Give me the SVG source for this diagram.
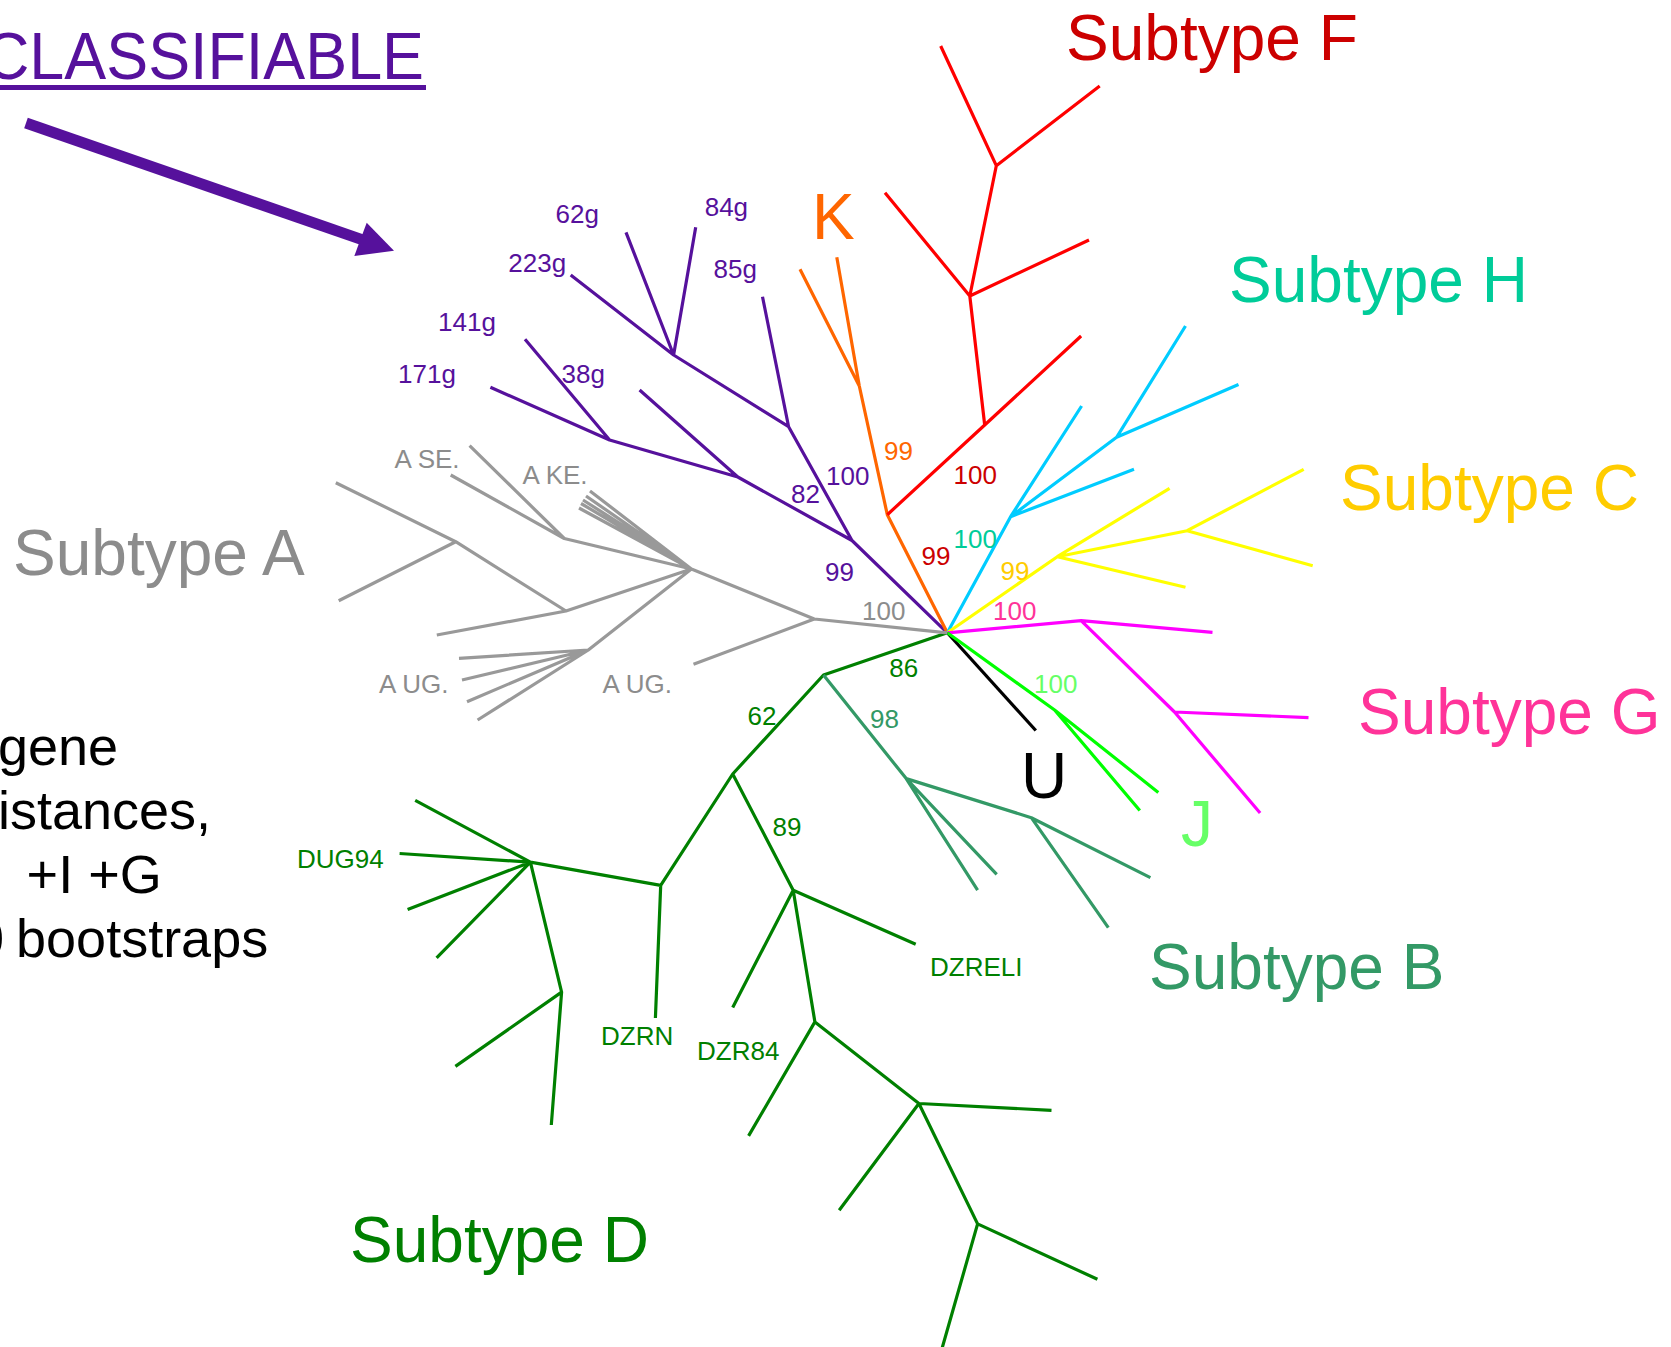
<svg xmlns="http://www.w3.org/2000/svg" width="1671" height="1347" viewBox="0 0 1671 1347">
  <style>
    text { font-family: "Liberation Sans", Arial, sans-serif; }
    .big { font-size: 64px; }
    .note { font-size: 54px; fill: #000; }
    .lbl { font-size: 26px; }
    .strain { font-size: 26px; }
    .br { fill: none; stroke-width: 3.2; stroke-linejoin: round; stroke-linecap: butt; }
    .purple { fill: #56119c; }
    .gray { fill: #8c8c8c; }
    .dred { fill: #cc0000; }
    .orange { fill: #ff6600; }
    .teal { fill: #00cc99; }
    .gold { fill: #ffcc00; }
    .pink { fill: #ff3399; }
    .lgreen { fill: #66ff66; }
    .dgreen { fill: #008000; }
    .sgreen { fill: #339966; }
  </style>
  <rect width="1671" height="1347" fill="#ffffff"/>

  <!-- heading and pointer -->
  <g id="heading">
    <text x="-16" y="79.3" font-size="66" textLength="440" lengthAdjust="spacingAndGlyphs" class="purple">CLASSIFIABLE</text>
    <rect x="0" y="85" width="426" height="5" fill="#56119c"/>
  </g>
  <g id="pointer">
    <line x1="26" y1="123" x2="362" y2="239.6" stroke="#56119c" stroke-width="11"/>
    <path d="M366.7 222.7 L394 250.7 L354.3 256 Z" fill="#56119c"/>
  </g>

  <!-- method notes -->
  <g id="method-notes">
    <text x="-2" y="765" class="note">gene</text>
    <text x="-2" y="829" class="note">istances,</text>
    <text x="26.6" y="893" class="note">+I +G</text>
    <text x="-26" y="957" class="note" word-spacing="-3">0 bootstraps</text>
  </g>

  <!-- tree branches -->
  <g id="connectors">
    <path id="br-unclassified" class="br" stroke="#56119c" d="M947.3 632.8 L852 540.5 L788.6 426.7 L673.6 355 L570.7 275 M673.6 355 L626 232.3 M673.6 355 L695.7 227.3 M788.6 426.7 L762.5 296.7 M852 540.5 L737.8 477 L609.6 440 L490.4 387.3 M609.6 440 L525 339.3 M737.8 477 L639.6 390"/>
    <path id="br-K" class="br" stroke="#ff6600" d="M947.3 632.8 L887.3 514.7 L859.3 386 L800 269.3 M859.3 386 L836.8 257.3"/>
    <path id="br-F" class="br" stroke="#ff0000" d="M887.3 514.7 L984.7 425 L969.8 296 L996.3 165.7 L940.7 46 M996.3 165.7 L1099.7 86 M969.8 296 L885 192.7 M969.8 296 L1089 240 M984.7 425 L1081.1 336"/>
    <path id="br-H" class="br" stroke="#00ccff" d="M947.3 632.8 L1010.6 516.7 L1116.6 437.3 L1185.5 326 M1116.6 437.3 L1238.5 384.5 M1010.6 516.7 L1081.6 406 M1010.6 516.7 L1134 469.3"/>
    <path id="br-C" class="br" stroke="#ffff00" d="M947.3 632.8 L1057.3 556.7 L1187.1 530.7 L1303.7 469.3 M1187.1 530.7 L1312.7 565.7 M1057.3 556.7 L1169.6 488.3 M1057.3 556.7 L1185.5 587.3"/>
    <path id="br-G" class="br" stroke="#ff00ff" d="M947.3 632.8 L1081.1 620.7 L1212.5 632.3 M1081.1 620.7 L1174.5 712 L1308.5 717.6 M1174.5 712 L1260.1 813"/>
    <path id="br-U" class="br" stroke="#000000" d="M947.3 632.8 L1035.8 730.5"/>
    <path id="br-J" class="br" stroke="#00ff00" d="M947.3 632.8 L1054.6 710 L1158.3 792.4 M1054.6 710 L1139.8 810.5"/>
    <path id="br-D" class="br" stroke="#008000" d="M947.3 632.8 L823.5 675 L732.7 774 L660.7 885.3 L655.4 1018 M660.7 885.3 L530.4 862.2 L415.2 800.3 M530.4 862.2 L399.6 853.5 M530.4 862.2 L407.6 909.6 M530.4 862.2 L436.6 957.9 M530.4 862.2 L561.6 992.1 L455.4 1066.4 M561.6 992.1 L551.3 1125 M732.7 774 L793.2 890.2 L915.7 944.3 M793.2 890.2 L732.7 1007.5 M793.2 890.2 L814.9 1021.9 L748.6 1135.9 M814.9 1021.9 L918.9 1103.5 L1051.5 1110.3 M918.9 1103.5 L839.2 1210.3 M918.9 1103.5 L977.6 1223.9 L1097.4 1279.3 M977.6 1223.9 L941 1352"/>
    <path id="br-B" class="br" stroke="#339966" d="M823.5 675 L906.2 778.6 L977.6 890.2 M906.2 778.6 L996.7 874.4 M906.2 778.6 L1031.3 817.7 L1150.4 877.6 M1031.3 817.7 L1108.3 927.6"/>
    <path id="br-A" class="br" stroke="#999999" d="M947.3 632.8 L814.3 619 L693.5 664.3 M814.3 619 L691.4 569 L564.3 538.5 L469.6 445.7 M564.3 538.5 L450.7 475 M691.4 569 L566 611 L436.8 635 M566 611 L455.7 541.7 L335.8 482.7 M455.7 541.7 L338.7 600.7 M691.4 569 L588.3 650 L459 658.3 M588.3 650 L462 680 M588.3 650 L467 701.7 M588.3 650 L477.6 720 M691.4 569 L590 491 M691.4 569 L586 496 M691.4 569 L583 500 M691.4 569 L581 503.5 M691.4 569 L579 508"/>
  </g>

  <!-- clade labels, leaf names and bootstrap values -->
  <g id="clade-unclassified">
    <text x="555.5" y="223.3" class="lbl purple">62g</text>
    <text x="704.7" y="216" class="lbl purple">84g</text>
    <text x="508.3" y="271.7" class="lbl purple">223g</text>
    <text x="713.6" y="277.7" class="lbl purple">85g</text>
    <text x="438" y="330.7" class="lbl purple">141g</text>
    <text x="398" y="383.3" class="lbl purple">171g</text>
    <text x="561.5" y="383.3" class="lbl purple">38g</text>
    <text x="826" y="485" class="lbl purple">100</text>
    <text x="791" y="503" class="lbl purple">82</text>
    <text x="825" y="580.7" class="lbl purple">99</text>
  </g>
  <g id="clade-K">
    <text x="812" y="239.3" class="big orange">K</text>
    <text x="884" y="460" class="lbl orange">99</text>
  </g>
  <g id="clade-F">
    <text x="1066" y="60" class="big dred">Subtype F</text>
    <text x="953.5" y="484" class="lbl dred">100</text>
    <text x="921.5" y="564.5" class="lbl dred">99</text>
  </g>
  <g id="clade-H">
    <text x="1229" y="301.7" class="big teal">Subtype H</text>
    <text x="953.5" y="548.3" class="lbl teal">100</text>
  </g>
  <g id="clade-C">
    <text x="1340" y="510" class="big gold">Subtype C</text>
    <text x="1000.6" y="580" class="lbl gold">99</text>
  </g>
  <g id="clade-G">
    <text x="1358" y="734.3" class="big pink">Subtype G</text>
    <text x="993" y="620" class="lbl pink">100</text>
  </g>
  <g id="clade-U">
    <text x="1021" y="798" class="big" fill="#000">U</text>
  </g>
  <g id="clade-J">
    <text x="1181" y="846" class="big lgreen">J</text>
    <text x="1034" y="692.5" class="lbl lgreen">100</text>
  </g>
  <g id="clade-B">
    <text x="1149" y="989.4" class="big sgreen">Subtype B</text>
    <text x="870" y="727.5" class="lbl sgreen">98</text>
  </g>
  <g id="clade-D">
    <text x="350" y="1262" class="big dgreen">Subtype D</text>
    <text x="889.3" y="676.5" class="lbl dgreen">86</text>
    <text x="747.5" y="724.5" class="lbl dgreen">62</text>
    <text x="772.5" y="836" class="lbl dgreen">89</text>
    <text x="297" y="868.4" class="strain dgreen">DUG94</text>
    <text x="601" y="1044.5" class="strain dgreen">DZRN</text>
    <text x="697" y="1060.2" class="strain dgreen">DZR84</text>
    <text x="930" y="976" class="strain dgreen">DZRELI</text>
  </g>
  <g id="clade-A">
    <text x="13" y="575" class="big gray">Subtype A</text>
    <text x="862" y="620" class="lbl gray">100</text>
    <text x="394.5" y="468.3" class="lbl gray">A SE.</text>
    <text x="522.5" y="484.3" class="lbl gray">A KE.</text>
    <text x="379" y="692.7" class="lbl gray">A UG.</text>
    <text x="602.5" y="692.5" class="lbl gray">A UG.</text>
  </g>
</svg>
